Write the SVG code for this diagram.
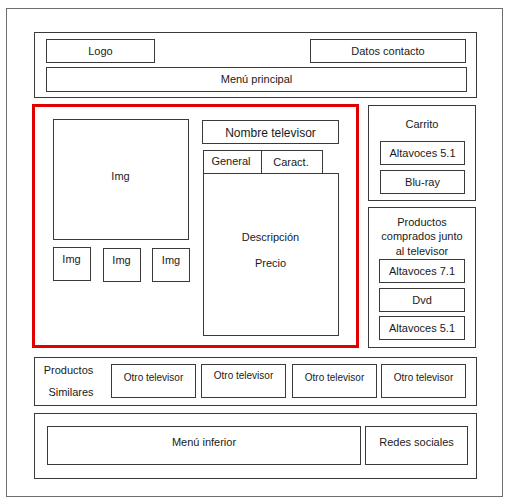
<svg xmlns="http://www.w3.org/2000/svg" width="512" height="504" viewBox="0 0 512 504">
  <style>
    .box { fill: #ffffff; stroke: #3a3a3a; stroke-width: 1; }
    .panel { fill: none; stroke: #3a3a3a; stroke-width: 1; }
    .frame { fill: #ffffff; stroke: #6e6e6e; stroke-width: 1; }
    .focus { fill: none; stroke: #e00000; stroke-width: 3; }
    text { font-family: "Liberation Sans", Arial, sans-serif; font-size: 11px; fill: #1a1a1a; text-anchor: middle; }
    .small { font-size: 10px; }
    .title { font-size: 12px; }
  </style>
  <rect width="512" height="504" fill="#ffffff"/>

  <!-- page frame -->
  <rect id="page" class="frame" x="6.5" y="8.5" width="496" height="488"/>

  <!-- header -->
  <g id="header">
    <rect class="panel" x="34.5" y="32.5" width="442" height="65"/>
    <g id="logo">
      <rect class="box" x="46.5" y="39.5" width="108" height="23"/>
      <text x="100.5" y="55">Logo</text>
    </g>
    <g id="datos-contacto">
      <rect class="box" x="310.5" y="39.5" width="155" height="23"/>
      <text x="388" y="55">Datos contacto</text>
    </g>
    <g id="menu-principal">
      <rect class="box" x="46.5" y="67.5" width="420" height="24"/>
      <text x="256.5" y="83">Menú principal</text>
    </g>
  </g>

  <!-- product detail -->
  <g id="detalle">
    <rect class="focus" x="33.5" y="105.5" width="324" height="241"/>
    <g id="img-main">
      <rect class="box" x="53.5" y="119.5" width="135" height="120"/>
      <text x="120.5" y="180">Img</text>
    </g>
    <g id="img-1">
      <rect class="box" x="53.5" y="247.5" width="37" height="33"/>
      <text x="71.5" y="263">Img</text>
    </g>
    <g id="img-2">
      <rect class="box" x="103.5" y="248.5" width="37" height="33"/>
      <text x="121.5" y="264">Img</text>
    </g>
    <g id="img-3">
      <rect class="box" x="152.5" y="248.5" width="37" height="33"/>
      <text x="171" y="264">Img</text>
    </g>
    <g id="nombre">
      <rect class="box" x="202.5" y="120.5" width="136" height="23"/>
      <text class="title" x="270.5" y="136.5">Nombre televisor</text>
    </g>
    <g id="tab-general">
      <rect class="box" x="203.5" y="150.5" width="58" height="23"/>
      <text x="231" y="165">General</text>
    </g>
    <g id="tab-caract">
      <rect class="box" x="261.5" y="150.5" width="61" height="23"/>
      <text x="291" y="166">Caract.</text>
    </g>
    <g id="descripcion">
      <rect class="box" x="203.5" y="173.5" width="135" height="162"/>
      <text x="270.5" y="240.5">Descripción</text>
      <text x="270.5" y="266.5">Precio</text>
    </g>
  </g>

  <!-- cart -->
  <g id="carrito">
    <rect class="panel" x="368.5" y="105.5" width="107" height="95"/>
    <text x="422" y="128">Carrito</text>
    <g id="carrito-altavoces">
      <rect class="box" x="380.5" y="141.5" width="84" height="23"/>
      <text x="422.5" y="157">Altavoces 5.1</text>
    </g>
    <g id="carrito-bluray">
      <rect class="box" x="380.5" y="170.5" width="84" height="23"/>
      <text x="422.5" y="186">Blu-ray</text>
    </g>
  </g>

  <!-- bought together -->
  <g id="comprados">
    <rect class="panel" x="368.5" y="207.5" width="107" height="140"/>
    <text x="422" y="225.5">Productos</text>
    <text x="422" y="240">comprados junto</text>
    <text x="422" y="254.5">al televisor</text>
    <g id="comprados-altavoces71">
      <rect class="box" x="379.5" y="259.5" width="85" height="23"/>
      <text x="422" y="275">Altavoces 7.1</text>
    </g>
    <g id="comprados-dvd">
      <rect class="box" x="379.5" y="288.5" width="85" height="23"/>
      <text x="422" y="304">Dvd</text>
    </g>
    <g id="comprados-altavoces51">
      <rect class="box" x="379.5" y="316.5" width="85" height="23"/>
      <text x="422" y="332">Altavoces 5.1</text>
    </g>
  </g>

  <!-- similar products -->
  <g id="similares">
    <rect class="panel" x="34.5" y="357.5" width="442" height="48"/>
    <text x="68.5" y="374">Productos</text>
    <text x="71" y="395.5">Similares</text>
    <g id="otro-1">
      <rect class="box" x="111.5" y="364.5" width="84" height="33"/>
      <text class="small" x="153.5" y="380.5">Otro televisor</text>
    </g>
    <g id="otro-2">
      <rect class="box" x="201.5" y="364.5" width="84" height="33"/>
      <text class="small" x="243.5" y="379">Otro televisor</text>
    </g>
    <g id="otro-3">
      <rect class="box" x="292.5" y="364.5" width="84" height="33"/>
      <text class="small" x="334.5" y="380.5">Otro televisor</text>
    </g>
    <g id="otro-4">
      <rect class="box" x="381.5" y="364.5" width="84" height="33"/>
      <text class="small" x="423.5" y="380.5">Otro televisor</text>
    </g>
  </g>

  <!-- footer -->
  <g id="footer">
    <rect class="panel" x="34.5" y="413.5" width="442" height="65"/>
    <g id="menu-inferior">
      <rect class="box" x="47.5" y="426.5" width="313" height="38"/>
      <text x="204" y="446">Menú inferior</text>
    </g>
    <g id="redes-sociales">
      <rect class="box" x="365.5" y="426.5" width="102" height="38"/>
      <text x="416.5" y="446">Redes sociales</text>
    </g>
  </g>
</svg>
